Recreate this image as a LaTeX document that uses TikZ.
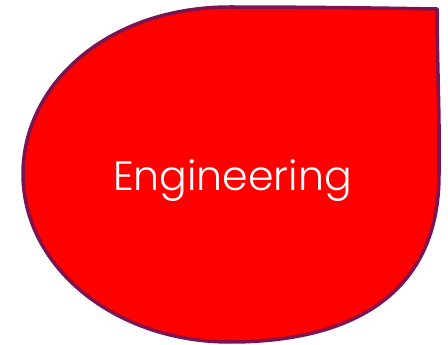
\documentclass[tikz,border=0pt]{standalone}
\usepackage{fontspec}
\newfontfamily\dropfont{Poppins}[UprightFont=* Light]
\definecolor{dropline}{RGB}{125,20,80}
\definecolor{dropfill}{RGB}{255,0,0}
\begin{document}
\begin{tikzpicture}[x=1pt,y=-1pt,
  drop/.style={draw=dropline,fill=dropfill,line width=3.5pt,line join=round},
  droplabel/.style={text=white,font=\dropfont\fontsize{41}{45}\selectfont,anchor=base,inner sep=0pt}]
\useasboundingbox (0,0) rectangle (448,345);
\coordinate (T) at (230,7);
\coordinate (L) at (23,174);
\coordinate (B) at (230,342);
\coordinate (R) at (439,175);
\coordinate (C) at (437,9);
\path[drop] (T) .. controls (108,7) and (23,84) .. (L)
  .. controls (23,267) and (115,342) .. (B)
  .. controls (365,342) and (439,284) .. (R)
  .. controls (440,120) and (437,60) .. (C)
  .. controls (380,8) and (300,7) .. (T) -- cycle;
\node[droplabel] (lab) at (232.5,190) {Engineering};
\end{tikzpicture}
\end{document}
